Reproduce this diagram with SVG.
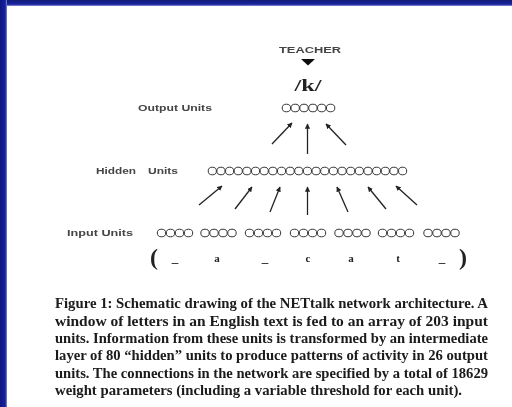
<svg xmlns="http://www.w3.org/2000/svg" width="512" height="407" viewBox="0 0 512 407">
  <style>
    .lbl { font-family: "Liberation Sans", Arial, sans-serif; font-size: 9px; font-weight: bold; fill: #444; }
    .unit { fill: none; stroke: #333; stroke-width: 1; }
    .conn { stroke: #222; stroke-width: 1.3; fill: none; }
    .cap { font-family: "Liberation Serif", "Times New Roman", serif; font-size: 13.6px; fill: #1a1a1a; font-weight: bold; }
    .sym { font-family: "Liberation Serif", serif; fill: #222; font-weight: bold; }
  </style>
  <defs>
    <marker id="ah" viewBox="0 0 10 10" refX="9" refY="5" markerWidth="4" markerHeight="4" orient="auto" markerUnits="strokeWidth">
      <path d="M0,0 L10,5 L0,10 z" fill="#222"/>
    </marker>
    <filter id="soft" x="-5%" y="-5%" width="110%" height="110%">
      <feGaussianBlur stdDeviation="0.45"/>
    </filter>
    <linearGradient id="topg" x1="0" y1="0" x2="0" y2="1">
      <stop offset="0" stop-color="#101a78"/>
      <stop offset="0.7" stop-color="#1a23a0"/>
      <stop offset="1" stop-color="#8a8fd0"/>
    </linearGradient>
    <linearGradient id="leftg" x1="0" y1="0" x2="1" y2="0">
      <stop offset="0" stop-color="#0e1680"/>
      <stop offset="0.75" stop-color="#1820a0"/>
      <stop offset="1" stop-color="#8a8fd0"/>
    </linearGradient>
  </defs>
  <rect x="0" y="0" width="512" height="407" fill="#ffffff"/>
  <rect x="0" y="0" width="512" height="6" fill="url(#topg)"/>
  <rect x="0" y="0" width="7" height="407" fill="url(#leftg)"/>

  <g filter="url(#soft)">
    <g id="teacher">
      <text x="279" y="53" class="lbl" textLength="62" lengthAdjust="spacingAndGlyphs">TEACHER</text>
      <path d="M301,59 L315,59 L308,65.5 z" fill="#111"/>
      <text x="308" y="91" class="sym" font-size="16" text-anchor="middle" textLength="27" lengthAdjust="spacingAndGlyphs">/k/</text>
    </g>

    <g id="output-units">
      <text x="138" y="111" class="lbl" textLength="74" lengthAdjust="spacingAndGlyphs">Output Units</text>
      <g class="unit">
        <ellipse cx="286.4" cy="108" rx="4.2" ry="3.8"/>
        <ellipse cx="295.2" cy="108" rx="4.2" ry="3.8"/>
        <ellipse cx="304.0" cy="108" rx="4.2" ry="3.8"/>
        <ellipse cx="312.9" cy="108" rx="4.2" ry="3.8"/>
        <ellipse cx="321.7" cy="108" rx="4.2" ry="3.8"/>
        <ellipse cx="330.6" cy="108" rx="4.2" ry="3.8"/>
      </g>
    </g>

    <g id="hidden-units">
      <text x="96" y="174" class="lbl" textLength="40" lengthAdjust="spacingAndGlyphs">Hidden</text>
      <text x="148" y="174" class="lbl" textLength="30" lengthAdjust="spacingAndGlyphs">Units</text>
      <g class="unit">
        <ellipse cx="212.3" cy="171" rx="4.1" ry="3.8"/>
        <ellipse cx="220.95" cy="171" rx="4.1" ry="3.8"/>
        <ellipse cx="229.6" cy="171" rx="4.1" ry="3.8"/>
        <ellipse cx="238.25" cy="171" rx="4.1" ry="3.8"/>
        <ellipse cx="246.9" cy="171" rx="4.1" ry="3.8"/>
        <ellipse cx="255.55" cy="171" rx="4.1" ry="3.8"/>
        <ellipse cx="264.2" cy="171" rx="4.1" ry="3.8"/>
        <ellipse cx="272.85" cy="171" rx="4.1" ry="3.8"/>
        <ellipse cx="281.5" cy="171" rx="4.1" ry="3.8"/>
        <ellipse cx="290.15" cy="171" rx="4.1" ry="3.8"/>
        <ellipse cx="298.8" cy="171" rx="4.1" ry="3.8"/>
        <ellipse cx="307.45" cy="171" rx="4.1" ry="3.8"/>
        <ellipse cx="316.1" cy="171" rx="4.1" ry="3.8"/>
        <ellipse cx="324.75" cy="171" rx="4.1" ry="3.8"/>
        <ellipse cx="333.4" cy="171" rx="4.1" ry="3.8"/>
        <ellipse cx="342.05" cy="171" rx="4.1" ry="3.8"/>
        <ellipse cx="350.7" cy="171" rx="4.1" ry="3.8"/>
        <ellipse cx="359.35" cy="171" rx="4.1" ry="3.8"/>
        <ellipse cx="368.0" cy="171" rx="4.1" ry="3.8"/>
        <ellipse cx="376.65" cy="171" rx="4.1" ry="3.8"/>
        <ellipse cx="385.3" cy="171" rx="4.1" ry="3.8"/>
        <ellipse cx="393.95" cy="171" rx="4.1" ry="3.8"/>
        <ellipse cx="402.6" cy="171" rx="4.1" ry="3.8"/>
      </g>
    </g>

    <g id="input-units">
      <text x="67" y="236" class="lbl" textLength="66" lengthAdjust="spacingAndGlyphs">Input Units</text>
      <g class="unit">
        <ellipse cx="161.5" cy="233" rx="4.2" ry="3.8"/><ellipse cx="170.5" cy="233" rx="4.2" ry="3.8"/><ellipse cx="179.5" cy="233" rx="4.2" ry="3.8"/><ellipse cx="188.5" cy="233" rx="4.2" ry="3.8"/>
        <ellipse cx="205.0" cy="233" rx="4.2" ry="3.8"/><ellipse cx="214.0" cy="233" rx="4.2" ry="3.8"/><ellipse cx="223.0" cy="233" rx="4.2" ry="3.8"/><ellipse cx="232.0" cy="233" rx="4.2" ry="3.8"/>
        <ellipse cx="249.5" cy="233" rx="4.2" ry="3.8"/><ellipse cx="258.5" cy="233" rx="4.2" ry="3.8"/><ellipse cx="267.5" cy="233" rx="4.2" ry="3.8"/><ellipse cx="276.5" cy="233" rx="4.2" ry="3.8"/>
        <ellipse cx="294.5" cy="233" rx="4.2" ry="3.8"/><ellipse cx="303.5" cy="233" rx="4.2" ry="3.8"/><ellipse cx="312.5" cy="233" rx="4.2" ry="3.8"/><ellipse cx="321.5" cy="233" rx="4.2" ry="3.8"/>
        <ellipse cx="339.0" cy="233" rx="4.2" ry="3.8"/><ellipse cx="348.0" cy="233" rx="4.2" ry="3.8"/><ellipse cx="357.0" cy="233" rx="4.2" ry="3.8"/><ellipse cx="366.0" cy="233" rx="4.2" ry="3.8"/>
        <ellipse cx="382.5" cy="233" rx="4.2" ry="3.8"/><ellipse cx="391.5" cy="233" rx="4.2" ry="3.8"/><ellipse cx="400.5" cy="233" rx="4.2" ry="3.8"/><ellipse cx="409.5" cy="233" rx="4.2" ry="3.8"/>
        <ellipse cx="428.0" cy="233" rx="4.2" ry="3.8"/><ellipse cx="437.0" cy="233" rx="4.2" ry="3.8"/><ellipse cx="446.0" cy="233" rx="4.2" ry="3.8"/><ellipse cx="455.0" cy="233" rx="4.2" ry="3.8"/>
      </g>
      <g class="sym" text-anchor="middle">
        <text x="154" y="265" font-size="24">(</text>
        <text x="175" y="262" font-size="13">_</text>
        <text x="217" y="262" font-size="11">a</text>
        <text x="265" y="262" font-size="13">_</text>
        <text x="308" y="262" font-size="11">c</text>
        <text x="351" y="262" font-size="11">a</text>
        <text x="398" y="262" font-size="11">t</text>
        <text x="442" y="262" font-size="13">_</text>
        <text x="463" y="265" font-size="24">)</text>
      </g>
    </g>

    <g id="connectors">
      <line class="conn" x1="272" y1="144" x2="292" y2="123" marker-end="url(#ah)"/>
      <line class="conn" x1="307.5" y1="154" x2="307.5" y2="124" marker-end="url(#ah)"/>
      <line class="conn" x1="346" y1="145" x2="326" y2="124" marker-end="url(#ah)"/>
      <line class="conn" x1="199" y1="205" x2="222" y2="186" marker-end="url(#ah)"/>
      <line class="conn" x1="235" y1="209" x2="252" y2="187" marker-end="url(#ah)"/>
      <line class="conn" x1="270" y1="212" x2="280" y2="187" marker-end="url(#ah)"/>
      <line class="conn" x1="307.5" y1="215" x2="307.5" y2="187" marker-end="url(#ah)"/>
      <line class="conn" x1="348" y1="212" x2="337" y2="187" marker-end="url(#ah)"/>
      <line class="conn" x1="386" y1="209" x2="368" y2="187" marker-end="url(#ah)"/>
      <line class="conn" x1="417" y1="205" x2="396" y2="186" marker-end="url(#ah)"/>
    </g>

    <g id="caption" class="cap">
      <text x="55" y="308" textLength="433" lengthAdjust="spacingAndGlyphs">Figure 1: Schematic drawing of the NETtalk network architecture. A</text>
      <text x="55" y="325.5" textLength="433" lengthAdjust="spacingAndGlyphs">window of letters in an English text is fed to an array of 203 input</text>
      <text x="55" y="343" textLength="433" lengthAdjust="spacingAndGlyphs">units. Information from these units is transformed by an intermediate</text>
      <text x="55" y="360" textLength="433" lengthAdjust="spacingAndGlyphs">layer of 80 “hidden” units to produce patterns of activity in 26 output</text>
      <text x="55" y="377.5" textLength="433" lengthAdjust="spacingAndGlyphs">units. The connections in the network are specified by a total of 18629</text>
      <text x="55" y="395" textLength="407" lengthAdjust="spacingAndGlyphs">weight parameters (including a variable threshold for each unit).</text>
    </g>
  </g>
</svg>
